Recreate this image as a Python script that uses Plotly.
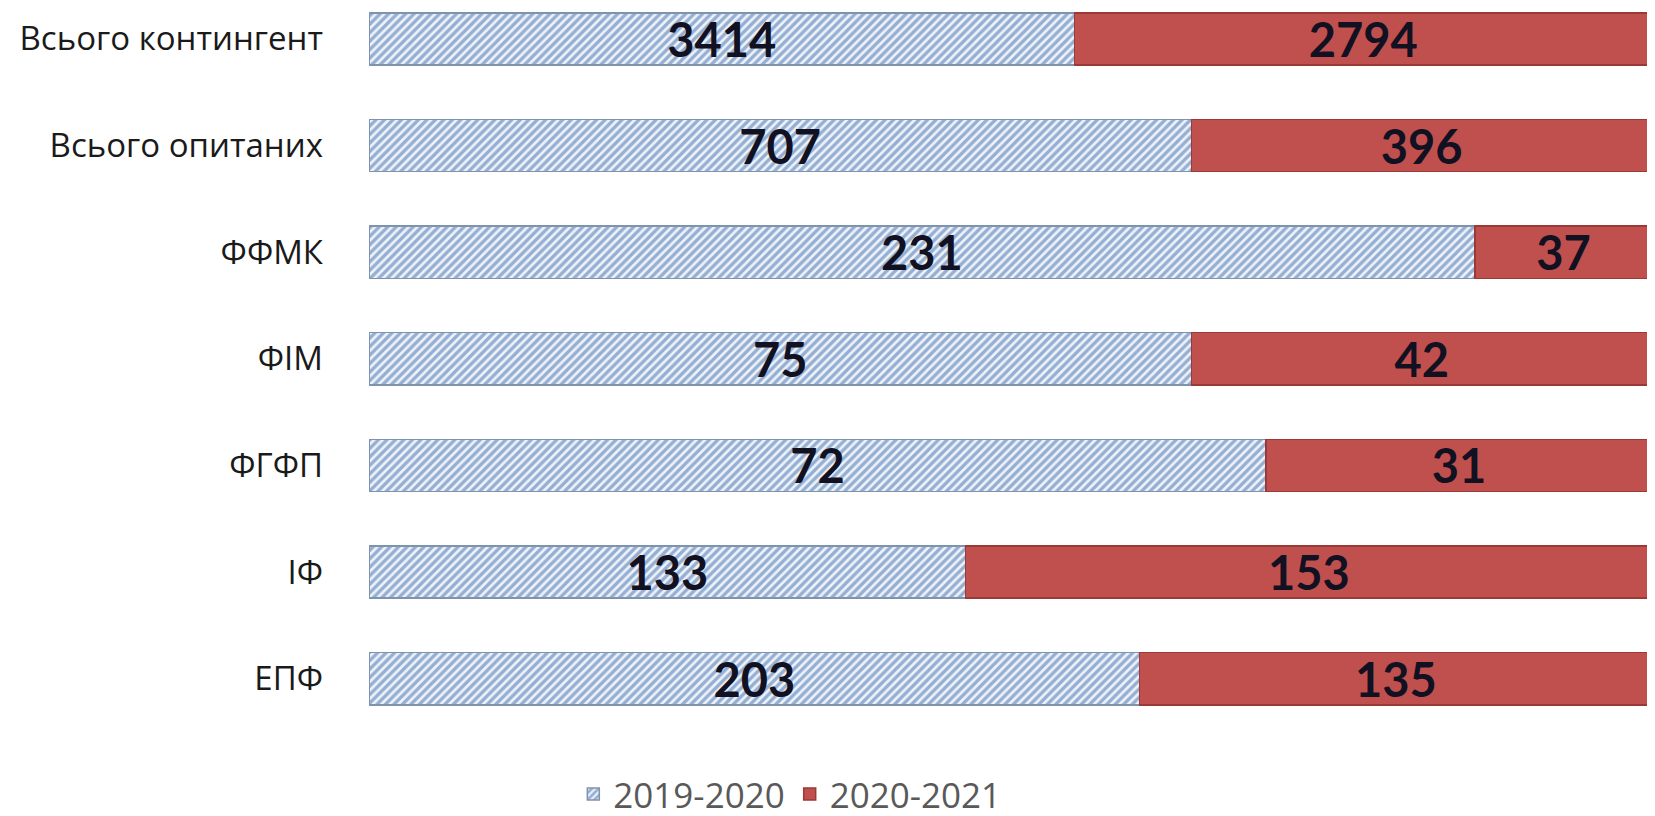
import plotly.graph_objects as go

categories = ["Всього контингент", "Всього опитаних", "ФФМК", "ФІМ", "ФГФП", "ІФ", "ЕПФ"]
series_2019 = [3414, 707, 231, 75, 72, 133, 203]
series_2020 = [2794, 396, 37, 42, 31, 153, 135]
series_names = ["2019-2020", "2020-2021"]

label_font = dict(family="Lato", size=47, color="#111122", weight="bold")

fig = go.Figure()
fig.add_trace(go.Bar(
    y=categories, x=series_2019, name=series_names[0], orientation="h",
    text=series_2019, textposition="inside", insidetextanchor="middle",
    textangle=0, constraintext="none", textfont=label_font,
    marker=dict(color="#E4ECF6",
                line=dict(color="#7F93AE", width=1.5),
                pattern=dict(shape="/", fgcolor="#3A6BAE", bgcolor="#EEF2F8",
                             size=6, solidity=0.55, fillmode="overlay")),
))
fig.add_trace(go.Bar(
    y=categories, x=series_2020, name=series_names[1], orientation="h",
    text=series_2020, textposition="inside", insidetextanchor="middle",
    textangle=0, constraintext="none", textfont=label_font,
    marker=dict(color="#C0504D", line=dict(color="#9A3936", width=1.5)),
))

fig.update_layout(
    barmode="stack", barnorm="percent", bargap=0.51,
    width=1655, height=816,
    margin=dict(l=361, r=11, t=0, b=90),
    paper_bgcolor="white", plot_bgcolor="white",
    font=dict(family="Open Sans", color="#222222"),
    showlegend=True,
    legend=dict(orientation="h", x=0.328, xanchor="center", y=-0.086, yanchor="middle",
                font=dict(family="Open Sans", size=35, color="#595959"),
                itemwidth=30, traceorder="normal"),
    xaxis=dict(range=[0, 100], visible=False),
    yaxis=dict(range=[6.5, -0.29], showgrid=False, showline=False, zeroline=False,
               tickfont=dict(family="Open Sans", size=33, color="#1a1a1a"),
               ticklabelstandoff=45),
)

fig.write_html("out.html")
